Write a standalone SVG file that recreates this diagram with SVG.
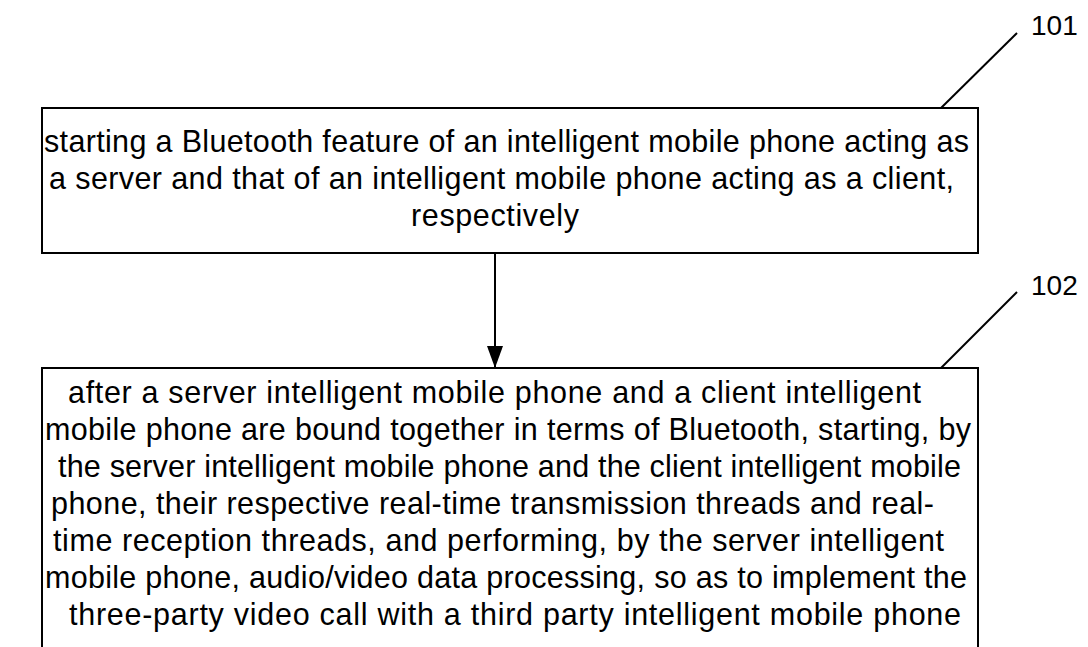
<svg xmlns="http://www.w3.org/2000/svg" width="1088" height="647" viewBox="0 0 1088 647">
<style>
.box{fill:#fff;stroke:#000;stroke-width:2}
.t{font-family:"Liberation Sans",Arial,sans-serif;font-size:30.5px;fill:#000;text-anchor:middle}
.lbl{font-family:"Liberation Sans",Arial,sans-serif;font-size:28px;fill:#000}
.ln{stroke:#000;stroke-width:2;fill:none}
</style>
<defs>
<marker id="ah" markerWidth="22" markerHeight="16" refX="22" refY="8" orient="auto" markerUnits="userSpaceOnUse" viewBox="0 0 22 16">
<path d="M0,0 L22,8 L0,16 Z" fill="#000"/>
</marker>
</defs>
<rect width="1088" height="647" fill="#fff"/>
<g id="node-101">
<rect class="box" x="42" y="108" width="936" height="145"/>
<text class="t" x="506.5" y="152" textLength="925" lengthAdjust="spacing">starting a Bluetooth feature of an intelligent mobile phone acting as</text>
<text class="t" x="501.5" y="189" textLength="905" lengthAdjust="spacing">a server and that of an intelligent mobile phone acting as a client,</text>
<text class="t" x="495" y="226" textLength="168" lengthAdjust="spacing">respectively</text>
</g>
<g id="node-102">
<rect class="box" x="42" y="368" width="936" height="300"/>
<text class="t" x="494.5" y="403" textLength="853" lengthAdjust="spacing">after a server intelligent mobile phone and a client intelligent</text>
<text class="t" x="508" y="440" textLength="926" lengthAdjust="spacing">mobile phone are bound together in terms of Bluetooth, starting, by</text>
<text class="t" x="509.5" y="477" textLength="903" lengthAdjust="spacing">the server intelligent mobile phone and the client intelligent mobile</text>
<text class="t" x="492.5" y="514" textLength="883" lengthAdjust="spacing">phone, their respective real-time transmission threads and real-</text>
<text class="t" x="498.5" y="551" textLength="891" lengthAdjust="spacing">time reception threads, and performing, by the server intelligent</text>
<text class="t" x="506" y="588" textLength="922" lengthAdjust="spacing">mobile phone, audio/video data processing, so as to implement the</text>
<text class="t" x="515" y="625" textLength="892" lengthAdjust="spacing">three-party video call with a third party intelligent mobile phone</text>
</g>
<g id="connectors">
<line class="ln" x1="495" y1="253" x2="495" y2="368" marker-end="url(#ah)"/>
<line class="ln" x1="941" y1="108" x2="1017" y2="33"/>
<line class="ln" x1="941" y1="368" x2="1017" y2="292"/>
</g>
<g id="labels">
<text class="lbl" x="1031" y="35">101</text>
<text class="lbl" x="1031" y="295">102</text>
</g>
</svg>
